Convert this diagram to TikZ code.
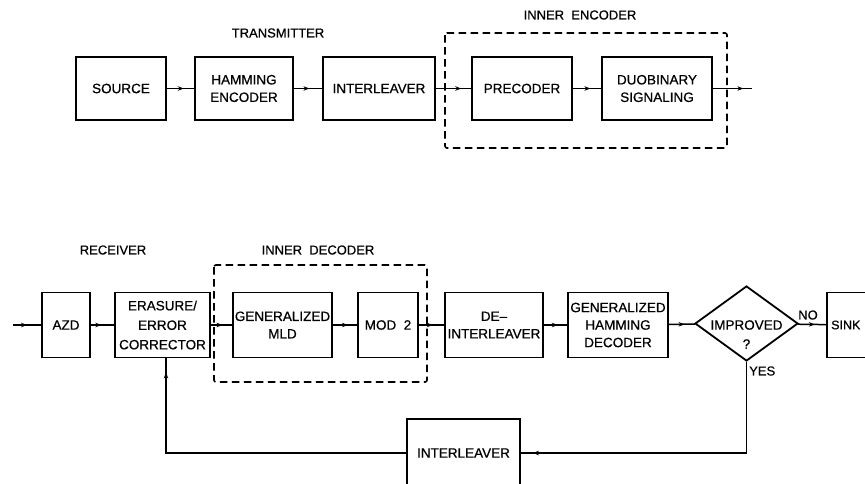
\documentclass[tikz,border=0pt]{standalone}
\usepackage{fontspec}
\setmainfont{Liberation Sans}[FakeBold=0.6]
\usetikzlibrary{shapes.geometric,arrows.meta,decorations.markings}
\begin{document}
\begin{tikzpicture}[x=1pt,y=-1pt,
 blk/.style={draw,line width=1.8pt,minimum height=63pt,inner sep=0pt,align=center,font=\fontsize{13.5}{17.5}\selectfont},
 lbl/.style={font=\fontsize{13}{14}\selectfont,inner sep=0pt},
 grp/.style={draw,line width=1.6pt,dash pattern=on 7.5pt off 4.5pt,rounded corners=2pt},
 conn/.style={line width=1.5pt,postaction={decorate},decoration={markings,mark=at position #1 with {\arrow{Stealth[length=6pt,width=4.5pt]}}}},
 conn/.default=0.6]
\useasboundingbox (0,0) rectangle (865,483);
\clip (0,0) rectangle (865,483);
% transmitter
\node[blk,minimum width=90pt] (src) at (121,88.5) {SOURCE};
\node[blk,minimum width=98pt] (ham) at (244,88.5) {HAMMING\\ENCODER};
\node[blk,minimum width=112pt] (int1) at (379,88.5) {INTERLEAVER};
\node[blk,minimum width=100pt] (pre) at (522,88.5) {PRECODER};
\node[blk,minimum width=110pt] (duo) at (657,88.5) {DUOBINARY\\SIGNALING};
\coordinate (out) at (752,88.5);
\draw[grp] (445,33) rectangle (727,148);
\node[lbl] (ltx) at (278,33) {TRANSMITTER};
\node[lbl] (lenc) at (580,15) {INNER\ \ ENCODER};
\draw[conn=0.62] (src) -- (ham);
\draw[conn=0.55] (ham) -- (int1);
\draw[conn=0.72] (int1) -- (pre);
\draw[conn=0.62] (pre) -- (duo);
\draw[conn=0.78] (duo) -- (out);
% receiver
\coordinate (in) at (13,325);
\node[blk,minimum width=48pt,minimum height=65pt] (azd) at (66,325) {AZD};
\node[blk,minimum width=95pt,minimum height=65pt,font=\fontsize{13.5}{19.5}\selectfont] (era) at (162.5,325) {ERASURE/\\ERROR\\CORRECTOR};
\node[blk,minimum width=99pt,minimum height=65pt] (mld) at (282.5,325) {GENERALIZED\\MLD};
\node[blk,minimum width=60pt,minimum height=65pt] (mod) at (388,325) {MOD\ \ 2};
\node[blk,minimum width=98pt,minimum height=65pt] (deint) at (494,325) {DE–\\INTERLEAVER};
\node[blk,minimum width=100pt,minimum height=65pt] (ghd) at (618,325) {GENERALIZED\\HAMMING\\DECODER};
\node[draw,diamond,line width=1.8pt,minimum width=103pt,minimum height=75pt,inner sep=0pt] (imp) at (746.5,323.5) {};
\node[lbl,font=\fontsize{13.5}{14}\selectfont] (impt) at (746.5,325) {IMPROVED};
\node[lbl,font=\fontsize{13.5}{14}\selectfont] (impq) at (746.5,344) {?};
\node[draw,line width=1.8pt,minimum width=56pt,minimum height=65pt,inner sep=0pt] (sink) at (855,325) {};
\node[lbl,anchor=west,font=\fontsize{12.5}{14}\selectfont] (sinkt) at (831,325) {SINK};
\node[blk,minimum width=113pt,minimum height=68pt] (int2) at (463.5,453) {INTERLEAVER};
\draw[grp] (214,265) rectangle (427,382);
\node[lbl] (lrx) at (113,250) {RECEIVER};
\node[lbl] (ldec) at (318,250) {INNER\ \ DECODER};
\node[lbl] (lno) at (808,315) {NO};
\node[lbl,anchor=west] (lyes) at (749,371) {YES};
\draw[conn=0.5] (in) -- (azd);
\draw[conn=0.45] (azd) -- (era);
\draw[conn=0.55] (era) -- (mld);
\draw[conn=0.62] (mld) -- (mod);
\draw[conn=0.55] (mod) -- (deint);
\draw[conn=0.6] (deint) -- (ghd);
\draw[conn=0.6] (ghd) -- (imp);
\draw[conn=0.6] (imp) -- (sink);
\coordinate (fbl) at (166,453);
\draw[conn=-12pt] (imp.south) -- (imp.south |- int2) -- (int2.east);
\draw[conn=-14pt] (int2.west) -- (fbl) -- (fbl |- era.south);
\end{tikzpicture}
\end{document}
